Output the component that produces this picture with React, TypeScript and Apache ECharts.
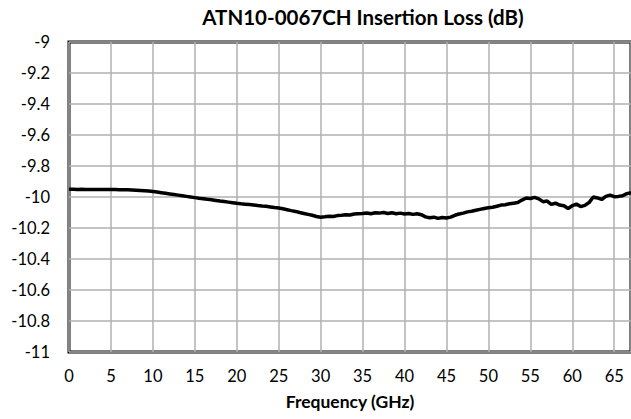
import React, { useEffect, useRef } from "react";
import * as echarts from "echarts";

const TITLE = "ATN10-0067CH Insertion Loss (dB)";
const X_NAME = "Frequency (GHz)";

const freqGHz: number[] = [
  0, 0.5, 1, 1.5, 2, 2.5, 3, 3.5, 4, 4.5, 5, 5.5, 6, 6.5, 7, 7.5, 8, 8.5, 9, 9.5,
  10, 10.5, 11, 11.5, 12, 12.5, 13, 13.5, 14, 14.5, 15, 15.5, 16, 16.5, 17, 17.5, 18, 18.5, 19, 19.5,
  20, 20.5, 21, 21.5, 22, 22.5, 23, 23.5, 24, 24.5, 25, 25.5, 26, 26.5, 27, 27.5, 28, 28.5, 29, 29.5,
  30, 30.5, 31, 31.5, 32, 32.5, 33, 33.5, 34, 34.5, 35, 35.5, 36, 36.5, 37, 37.5, 38, 38.5, 39, 39.5,
  40, 40.5, 41, 41.5, 42, 42.5, 43, 43.5, 44, 44.5, 45, 45.5, 46, 46.5, 47, 47.5, 48, 48.5, 49, 49.5,
  50, 50.5, 51, 51.5, 52, 52.5, 53, 53.5, 54, 54.5, 55, 55.5, 56, 56.5, 57, 57.5, 58, 58.5, 59, 59.5,
  60, 60.5, 61, 61.5, 62, 62.5, 63, 63.5, 64, 64.5, 65, 65.5, 66, 66.5, 67,
];

const lossDb: number[] = [
  -9.95, -9.95, -9.951, -9.95, -9.951, -9.951, -9.951, -9.952, -9.951, -9.952,
  -9.952, -9.952, -9.953, -9.953, -9.954, -9.955, -9.956, -9.958, -9.96, -9.962,
  -9.965, -9.968, -9.972, -9.976, -9.98, -9.984, -9.988, -9.992, -9.996, -10.0,
  -10.004, -10.008, -10.011, -10.015, -10.018, -10.022, -10.026, -10.029, -10.033, -10.037,
  -10.041, -10.044, -10.046, -10.048, -10.051, -10.055, -10.058, -10.06, -10.064, -10.068,
  -10.071, -10.076, -10.082, -10.088, -10.093, -10.1, -10.106, -10.112, -10.118, -10.126,
  -10.131, -10.128, -10.124, -10.126, -10.12, -10.118, -10.114, -10.116, -10.11, -10.108,
  -10.106, -10.103, -10.108, -10.102, -10.104, -10.1, -10.106, -10.102, -10.108, -10.104,
  -10.11, -10.106, -10.112, -10.108, -10.114, -10.128, -10.134, -10.13, -10.138, -10.132,
  -10.136, -10.13, -10.118, -10.11, -10.104, -10.096, -10.092, -10.086, -10.08, -10.074,
  -10.07, -10.066, -10.06, -10.052, -10.05, -10.044, -10.04, -10.036, -10.02, -10.006,
  -10.01, -10.002, -10.012, -10.03, -10.026, -10.048, -10.04, -10.052, -10.056, -10.074,
  -10.056, -10.046, -10.062, -10.054, -10.036, -10.0, -10.006, -10.016, -9.996, -9.988,
  -9.998, -9.996, -9.992, -9.978, -9.972,
];

const FONT = "Lato, 'Open Sans', sans-serif";

export default function App() {
  const ref = useRef<HTMLDivElement>(null);
  useEffect(() => {
    document.body.style.margin = "0";
    if (!ref.current) return;
    const chart = echarts.init(ref.current, undefined, { renderer: "svg" });
    chart.setOption({
      animation: false,
      backgroundColor: "#ffffff",
      title: {
        text: TITLE,
        left: 358,
        top: 1,
        textAlign: "center",
        textStyle: { fontFamily: FONT, fontSize: 20.5, fontWeight: "bold", color: "#000" },
      },
      grid: {
        left: 69,
        right: -2,
        top: 42,
        bottom: 67,
        show: true,
        borderColor: "#000",
        borderWidth: 3,
        backgroundColor: "transparent",
      },
      xAxis: {
        type: "value",
        min: 0,
        max: 67,
        interval: 5,
        name: X_NAME,
        nameLocation: "middle",
        nameGap: 40,
        nameTextStyle: { fontFamily: FONT, fontSize: 17.5, fontWeight: "bold", color: "#000" },
        axisLine: { show: false },
        axisTick: { show: false },
        axisLabel: {
          showMaxLabel: false,
          margin: 15,
          fontFamily: FONT,
          fontSize: 16.5,
          color: "#000",
        },
        splitLine: { show: true, lineStyle: { color: "#b0b0b0", width: 1.5 } },
      },
      yAxis: {
        type: "value",
        min: -11,
        max: -9,
        interval: 0.2,
        axisLine: { show: false },
        axisTick: { show: false },
        axisLabel: {
          margin: 19,
          fontFamily: FONT,
          fontSize: 16.5,
          color: "#000",
          formatter: (v: number) => String(Number(v.toFixed(1))),
        },
        splitLine: { show: true, lineStyle: { color: "#b0b0b0", width: 1.5 } },
      },
      series: [
        {
          type: "line",
          data: freqGHz.map((f, i) => [f, lossDb[i]]),
          showSymbol: false,
          symbol: "none",
          lineStyle: { color: "#000", width: 3.5 },
          z: 5,
        },
      ],
    });
    return () => chart.dispose();
  }, []);
  return <div ref={ref} style={{ width: 631, height: 419 }} />;
}
